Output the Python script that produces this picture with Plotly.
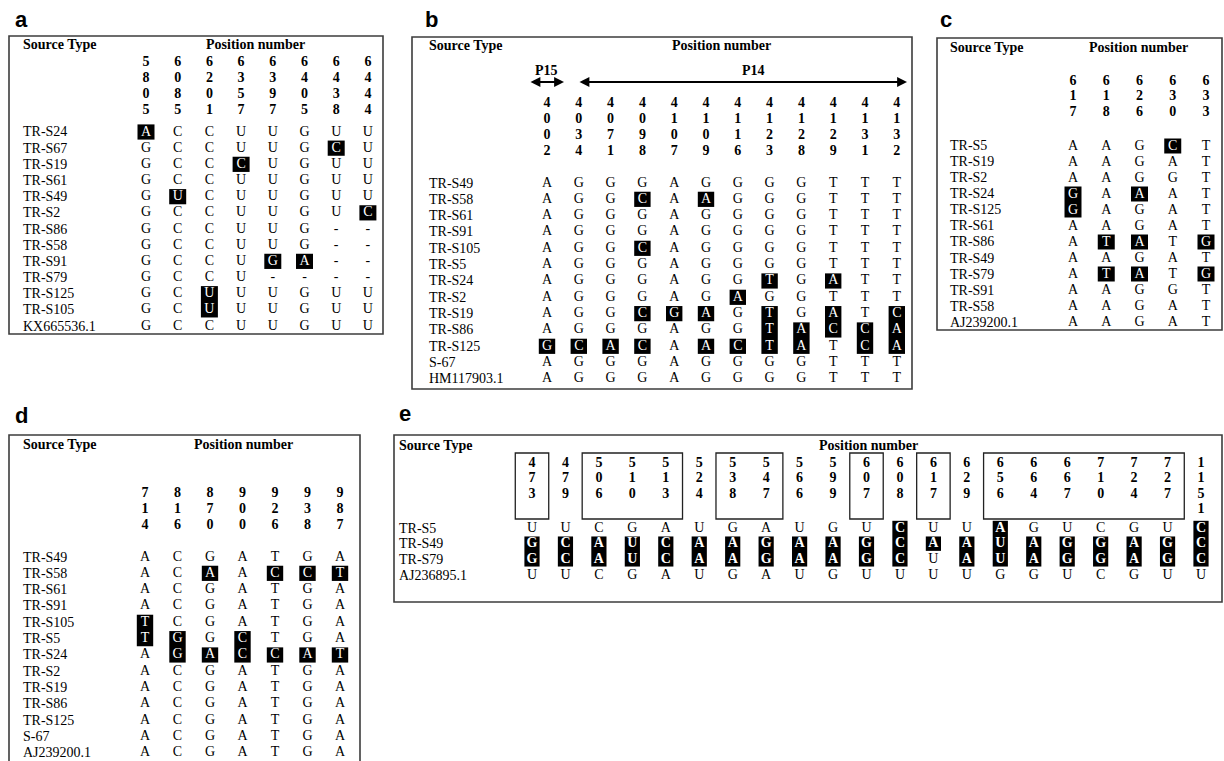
import plotly.graph_objects as go

W, H = 1224, 761

# ---------------- data ----------------
# Panel a
a_positions = ["5805", "6085", "6201", "6357", "6397", "6405", "6438", "6444"]
a_sources = ["TR-S24", "TR-S67", "TR-S19", "TR-S61", "TR-S49", "TR-S2", "TR-S86",
             "TR-S58", "TR-S91", "TR-S79", "TR-S125", "TR-S105", "KX665536.1"]
a_bases = ["ACCUUGUU", "GCCUUGCU", "GCCCUGUU", "GCCUUGUU", "GUCUUGUU", "GCCUUGUC",
           "GCCUUG--", "GCCUUG--", "GCCUGA--", "GCCU----", "GCUUUGUU", "GCUUUGUU",
           "GCCUUGUU"]
a_marks = ["10000000", "00000010", "00010000", "00000000", "01000000", "00000001",
           "00000000", "00000000", "00001100", "00000000", "00100000", "00100000",
           "00000000"]

# Panel b
b_positions = ["4002", "4034", "4071", "4098", "4107", "4109", "4116", "4123",
               "4128", "4129", "4131", "4132"]
b_sources = ["TR-S49", "TR-S58", "TR-S61", "TR-S91", "TR-S105", "TR-S5", "TR-S24",
             "TR-S2", "TR-S19", "TR-S86", "TR-S125", "S-67", "HM117903.1"]
b_bases = ["AGGGAGGGGTTT", "AGGCAAGGGTTT", "AGGGAGGGGTTT", "AGGGAGGGGTTT",
           "AGGCAGGGGTTT", "AGGGAGGGGTTT", "AGGGAGGTGATT", "AGGGAGAGGTTT",
           "AGGCGAGTGATC", "AGGGAGGTACCA", "GCACAACTATCA", "AGGGAGGGGTTT",
           "AGGGAGGGGTTT"]
b_marks = ["000000000000", "000101000000", "000000000000", "000000000000",
           "000100000000", "000000000000", "000000010100", "000000100000",
           "000111010101", "000000011111", "111101111011", "000000000000",
           "000000000000"]
b_regions = [("P15", 0, 0), ("P14", 1, 11)]

# Panel c
c_positions = ["617", "618", "626", "630", "633"]
c_sources = ["TR-S5", "TR-S19", "TR-S2", "TR-S24", "TR-S125", "TR-S61", "TR-S86",
             "TR-S49", "TR-S79", "TR-S91", "TR-S58", "AJ239200.1"]
c_bases = ["AAGCT", "AAGAT", "AAGGT", "GAAAT", "GAGAT", "AAGAT", "ATATG", "AAGAT",
           "ATATG", "AAGGT", "AAGAT", "AAGAT"]
c_marks = ["00010", "00000", "00000", "10100", "10000", "00000", "01101", "00000",
           "01101", "00000", "00000", "00000"]

# Panel d
d_positions = ["714", "816", "870", "900", "926", "938", "987"]
d_sources = ["TR-S49", "TR-S58", "TR-S61", "TR-S91", "TR-S105", "TR-S5", "TR-S24",
             "TR-S2", "TR-S19", "TR-S86", "TR-S125", "S-67", "AJ239200.1"]
d_bases = ["ACGATGA", "ACAACCT", "ACGATGA", "ACGATGA", "TCGATGA", "TGGCTGA",
           "AGACCAT", "ACGATGA", "ACGATGA", "ACGATGA", "ACGATGA", "ACGATGA",
           "ACGATGA"]
d_marks = ["0000000", "0010111", "0000000", "0000000", "1000000", "1101000",
           "0111111", "0000000", "0000000", "0000000", "0000000", "0000000",
           "0000000"]

# Panel e
e_positions = ["473", "479", "506", "510", "513", "524", "538", "547", "566", "599",
               "607", "608", "617", "629", "656", "664", "667", "710", "724", "727",
               "1151"]
e_sources = ["TR-S5", "TR-S49", "TR-S79", "AJ236895.1"]
e_bases = ["UUCGAUGAUGUCUUAGUCGUC", "GCAUCAAGAAGCAAUAGGAGC",
           "GCAUCAAGAAGCUAUAGGAGC", "UUCGAUGAUGUUUUGGUCGUU"]
e_marks = ["000000000001001000001", "111111111111111111111",
           "111111111111011111111", "000000000000000000000"]
e_groups = [(0, 0), (2, 4), (6, 7), (10, 10), (12, 12), (14, 19)]

# ---------------- layout geometry (pixels) ----------------
SERIF = "Liberation Serif, Times New Roman, serif"
SANS = "Liberation Sans, Arial, sans-serif"
FS = 14

geoms = {
    "a": dict(box=(9, 36, 383, 334), c0=146, cs=31.7, r0=132, rs=16.17, dy0=62, ds=16.2,
              name_x=21, title_y=45, pos_x=255, label=(21, 20), hw=8.5, hh=7.6, bold=False),
    "b": dict(box=(412, 37, 912, 389), c0=547, cs=31.8, r0=183, rs=16.33, dy0=103, ds=16.3,
              name_x=427, title_y=46, pos_x=721, label=(431, 19), hw=8.2, hh=7.6, bold=False),
    "c": dict(box=(937, 38, 1222, 330), c0=1073, cs=33.25, r0=146, rs=16.0, dy0=81, ds=15.6,
              name_x=948, title_y=47, pos_x=1138, label=(946, 20), hw=8.5, hh=7.5, bold=False),
    "d": dict(box=(9, 435, 360, 800), c0=145, cs=32.5, r0=557, rs=16.33, dy0=493, ds=16.0,
              name_x=21, title_y=444, pos_x=243, label=(21, 415), hw=8.2, hh=7.6, bold=False),
    "e": dict(box=(394, 435, 1222, 602), c0=532, cs=33.45, r0=528, rs=15.67, dy0=463, ds=15.6,
              name_x=397, title_y=445, pos_x=868, label=(405, 413), hw=7.6, hh=7.2, bold=True),
}

panels = [
    ("a", a_positions, a_sources, a_bases, a_marks),
    ("b", b_positions, b_sources, b_bases, b_marks),
    ("c", c_positions, c_sources, c_bases, c_marks),
    ("d", d_positions, d_sources, d_bases, d_marks),
    ("e", e_positions, e_sources, e_bases, e_marks),
]

fig = go.Figure()
shapes, annotations, axes = [], [], {}

for i, (key, positions, sources, bases, marks) in enumerate(panels, start=1):
    g = geoms[key]
    L, T, R, B = g["box"]
    Bc = min(B, H)
    sfx = "" if i == 1 else str(i)
    xr, yr = "x" + sfx, "y" + sfx
    ux = lambda px, g=g: (px - g["c0"]) / g["cs"]
    uy = lambda py, g=g: (py - g["r0"]) / g["rs"]

    axes["xaxis" + sfx] = dict(domain=[L / W, R / W], range=[ux(L), ux(R)],
                               visible=False, fixedrange=True, anchor=yr)
    axes["yaxis" + sfx] = dict(domain=[1 - Bc / H, 1 - T / H], range=[uy(Bc), uy(T)],
                               visible=False, fixedrange=True, anchor=xr)

    # frame
    shapes.append(dict(type="rect", xref=xr + " domain", yref=yr + " domain",
                       x0=0, x1=1, y0=(0 if B <= H else -0.2), y1=1,
                       line=dict(color="#3c3c3c", width=1.6), fillcolor="rgba(0,0,0,0)"))

    # header digits
    hx, hy, ht = [], [], []
    for j, pos in enumerate(positions):
        for k, ch in enumerate(pos):
            hx.append(j)
            hy.append(uy(g["dy0"] + k * g["ds"]))
            ht.append(ch)
    fig.add_trace(go.Scatter(x=hx, y=hy, text=ht, mode="text", xaxis=xr, yaxis=yr,
                             textfont=dict(family=SERIF, size=FS, color="black", weight="bold"),
                             hoverinfo="skip", cliponaxis=False))

    # highlight boxes (runs of consecutive marked rows merge)
    hw, hh = g["hw"] / g["cs"], g["hh"] / g["rs"]
    ncol = len(positions)
    for j in range(ncol):
        r = 0
        while r < len(marks):
            if marks[r][j] == "1":
                s = r
                while r + 1 < len(marks) and marks[r + 1][j] == "1":
                    r += 1
                shapes.append(dict(type="rect", xref=xr, yref=yr, layer="below",
                                   x0=j - hw, x1=j + hw, y0=s - hh, y1=r + hh,
                                   fillcolor="black", line=dict(width=0)))
            r += 1

    # base letters
    nx, ny, nt, wx, wy, wt = [], [], [], [], [], []
    for r, (seq, mk) in enumerate(zip(bases, marks)):
        for j, ch in enumerate(seq):
            if mk[j] == "1":
                wx.append(j); wy.append(r); wt.append(ch)
            else:
                nx.append(j); ny.append(r); nt.append(ch)
    fig.add_trace(go.Scatter(x=nx, y=ny, text=nt, mode="text", xaxis=xr, yaxis=yr,
                             textfont=dict(family=SERIF, size=FS, color="black"),
                             hoverinfo="skip", cliponaxis=False))
    fig.add_trace(go.Scatter(x=wx, y=wy, text=wt, mode="text", xaxis=xr, yaxis=yr,
                             textfont=dict(family=SERIF, size=FS, color="white",
                                           weight=("bold" if g["bold"] else "normal")),
                             hoverinfo="skip", cliponaxis=False))

    # row names
    for r, name in enumerate(sources):
        annotations.append(dict(xref=xr, yref=yr, x=ux(g["name_x"]), y=r, text=name,
                                xanchor="left", yanchor="middle", showarrow=False,
                                font=dict(family=SERIF, size=FS, color="black")))

    # titles
    annotations.append(dict(xref="paper", yref="paper", x=g["name_x"] / W,
                            y=1 - g["title_y"] / H, text="<b>Source Type</b>",
                            xanchor="left", yanchor="middle", showarrow=False,
                            font=dict(family=SERIF, size=FS, color="black")))
    annotations.append(dict(xref="paper", yref="paper", x=g["pos_x"] / W,
                            y=1 - g["title_y"] / H, text="<b>Position number</b>",
                            xanchor="center", yanchor="middle", showarrow=False,
                            font=dict(family=SERIF, size=FS, color="black")))
    # panel letter
    lx, ly = g["label"]
    annotations.append(dict(xref="paper", yref="paper", x=lx / W, y=1 - ly / H,
                            text="<b>%s</b>" % key, xanchor="center", yanchor="middle",
                            showarrow=False, font=dict(family=SANS, size=22, color="black")))

    # panel b: P15 / P14 arrows
    if key == "b":
        arrow_px = {"P15": (529, 564), "P14": (578, 907)}
        for lab, c_first, c_last in b_regions:
            x0p, x1p = arrow_px[lab]
            annotations.append(dict(xref=xr, yref=yr, axref=xr, ayref=yr,
                                    x=ux(x1p), y=uy(82), ax=ux(x0p), ay=uy(82), text="",
                                    showarrow=True, arrowside="end+start", arrowhead=2,
                                    arrowsize=1.1, arrowwidth=1.8, arrowcolor="black",
                                    standoff=0, startstandoff=0))
            annotations.append(dict(xref=xr, yref=yr, x=ux((x0p + x1p) / 2) if lab == "P15" else ux(753),
                                    y=uy(70), text="<b>%s</b>" % lab, showarrow=False,
                                    xanchor="center", yanchor="middle",
                                    font=dict(family=SERIF, size=FS, color="black")))

    # panel e: boxed header groups
    if key == "e":
        for c_first, c_last in e_groups:
            shapes.append(dict(type="rect", xref=xr, yref=yr,
                               x0=c_first - 0.5, x1=c_last + 0.5, y0=uy(453), y1=uy(519),
                               line=dict(color="#222", width=1.3),
                               fillcolor="rgba(0,0,0,0)"))

fig.update_layout(width=W, height=H, margin=dict(l=0, r=0, t=0, b=0),
                  paper_bgcolor="white", plot_bgcolor="rgba(0,0,0,0)",
                  showlegend=False, shapes=shapes, annotations=annotations, **axes)

fig.write_html("out.html", config={"displayModeBar": False},
               post_script="document.body.style.margin='0';")
